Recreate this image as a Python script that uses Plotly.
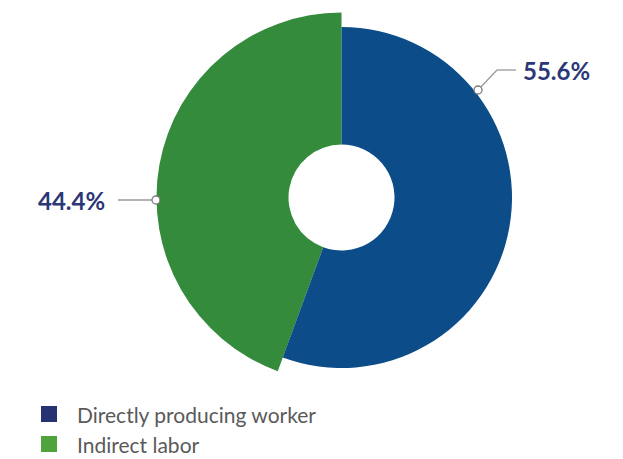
import plotly.graph_objects as go

labels = ["Directly producing worker", "Indirect labor"]
values = [55.6, 44.4]
pct_text = ["55.6%", "44.4%"]
slice_colors = ["#0b4c89", "#348b3b"]
legend_colors = ["#253470", "#4fa33c"]

OFF = 8  # page body margin shifts the figure
W, H = 623 - OFF, 459 - OFF


def px(x, y):
    # window pixel position -> paper coords (margins are zero)
    return (x - OFF) / W, 1 - (y - OFF) / H


def dom(cx, cy, r):
    x0, y1 = px(cx - r, cy - r)
    x1, y0 = px(cx + r, cy + r)
    return dict(x=[x0, x1], y=[y0, y1])


cx, cy = 341.5, 197.5
hole_r = 53
radii = [170.5, 185]  # green slice is drawn a bit bigger

fig = go.Figure()
for i in [1, 0]:
    cols = ["rgba(0,0,0,0)"] * len(values)
    cols[i] = slice_colors[i]
    fig.add_trace(go.Pie(
        labels=labels, values=values, sort=False,
        direction="clockwise", rotation=0,
        marker=dict(colors=cols),
        textinfo="none", hoverinfo="label+percent",
        hole=hole_r / radii[i],
        domain=dom(cx, cy, radii[i]),
        showlegend=False,
    ))

shapes = []
annotations = []
line_style = dict(color="#9a9a9a", width=1.3)


def seg(x0, y0, x1, y1):
    a, b = px(x0, y0)
    c, d = px(x1, y1)
    shapes.append(dict(type="line", xref="paper", yref="paper", x0=a, y0=b, x1=c, y1=d, line=line_style))


def dot(x, y, r=4):
    a, b = px(x - r, y + r)
    c, d = px(x + r, y - r)
    shapes.append(dict(type="circle", xref="paper", yref="paper", x0=a, y0=b, x1=c, y1=d,
                       fillcolor="white", line=dict(color="#7a7a7a", width=1.3)))


# leader lines
seg(478, 90, 497, 70)
seg(497, 70, 516, 70)
dot(478, 90)
seg(118, 200, 152, 200)
dot(156, 200)

lx, ly = px(521, 71)
annotations.append(dict(x=lx, y=ly, xref="paper", yref="paper", text="<b>%s</b>" % pct_text[0],
                        xanchor="left", yanchor="middle", showarrow=False,
                        font=dict(family="Lato", size=24, color="#2b3777")))
lx, ly = px(107, 200)
annotations.append(dict(x=lx, y=ly, xref="paper", yref="paper", text="<b>%s</b>" % pct_text[1],
                        xanchor="right", yanchor="middle", showarrow=False,
                        font=dict(family="Lato", size=24, color="#2b3777")))

# legend drawn by hand
for i, lab in enumerate(labels):
    yc = 414 + i * 30
    a, b = px(41, yc + 8)
    c, d = px(57, yc - 8)
    shapes.append(dict(type="rect", xref="paper", yref="paper", x0=a, y0=b, x1=c, y1=d,
                       fillcolor=legend_colors[i], line=dict(width=0)))
    tx, ty = px(75, yc)
    annotations.append(dict(x=tx, y=ty, xref="paper", yref="paper", text=lab,
                            xanchor="left", yanchor="middle", showarrow=False,
                            font=dict(family="Lato", size=21, color="#5a5a5a")))

fig.update_layout(
    width=W, height=H,
    margin=dict(l=0, r=0, t=0, b=0),
    paper_bgcolor="white", plot_bgcolor="white",
    shapes=shapes, annotations=annotations,
    showlegend=False,
)

fig.write_html("out.html")
